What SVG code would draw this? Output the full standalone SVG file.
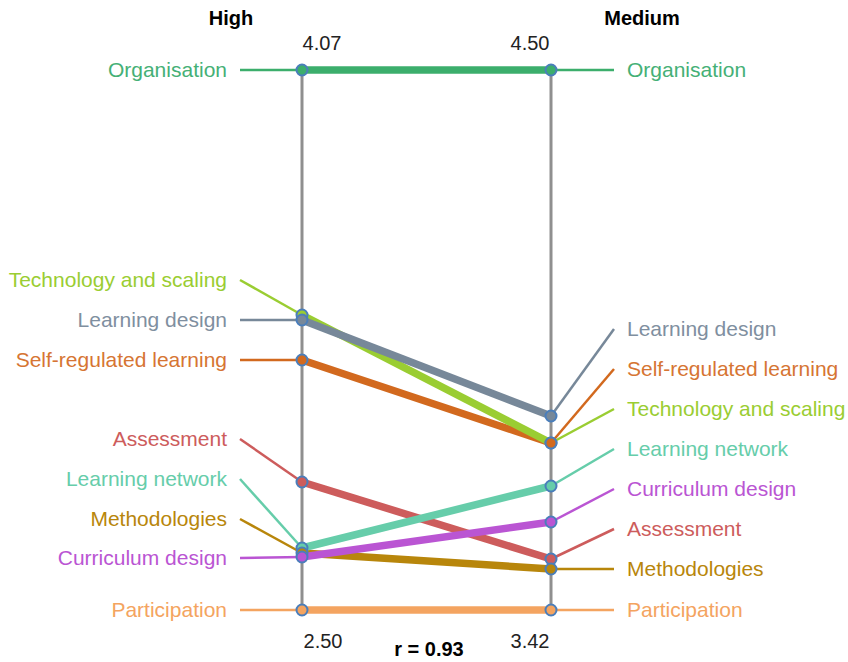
<svg xmlns="http://www.w3.org/2000/svg" width="848" height="662" viewBox="0 0 848 662">
<style>
text{font-family:"Liberation Sans",Arial,sans-serif;font-size:20px}
.lab{font-size:21px}
.l{text-anchor:end}
.hd{font-weight:bold;font-size:20px;text-anchor:middle;fill:#000}
.num{text-anchor:middle;fill:#222}
.axis{stroke:#8f8f8f;stroke-width:3}
.main{stroke-width:7.5;fill:none}
.lead{stroke-width:2.5;fill:none}
.mk{stroke:#4a7ebb;stroke-width:2}
</style>
<rect width="848" height="662" fill="#fff"/>
<g id="axes">
<line class="axis" x1="302" y1="70" x2="302" y2="610"/>
<line class="axis" x1="551" y1="70" x2="551" y2="610"/>
</g>
<text class="hd" x="231" y="25">High</text>
<text class="hd" x="642" y="25">Medium</text>
<text class="num" x="322" y="50">4.07</text>
<text class="num" x="530" y="50">4.50</text>
<text class="num" x="323" y="648">2.50</text>
<text class="num" x="530" y="648">3.42</text>
<text x="429" y="656" style="font-weight:bold;text-anchor:middle">r = 0.93</text>

<g id="connectors">
<g stroke="#3cae6c"><polyline class="lead" points="240,70 302,70"/><polyline class="main" points="302,70 551,70"/><polyline class="lead" points="551,70 614,70"/></g>
<g stroke="#f4a460"><polyline class="lead" points="240,610 302,610"/><polyline class="main" points="302,610 551,610"/><polyline class="lead" points="551,610 614,610"/></g>
<g stroke="#b8860b"><polyline class="lead" points="240,519 302,553"/><polyline class="main" points="302,553 551,569"/><polyline class="lead" points="551,569 614,569"/></g>
<g stroke="#cd5c5c"><polyline class="lead" points="240,439 302,482"/><polyline class="main" points="302,482 551,559"/><polyline class="lead" points="551,559 614,529"/></g>
<g stroke="#ba55d3"><polyline class="lead" points="240,558 302,557"/><polyline class="main" points="302,557 551,522"/><polyline class="lead" points="551,522 614,489"/></g>
<g stroke="#66cdaa"><polyline class="lead" points="240,479 302,548"/><polyline class="main" points="302,548 551,486"/><polyline class="lead" points="551,486 614,449"/></g>
<g stroke="#d2691e"><polyline class="lead" points="240,360 302,360"/><polyline class="main" points="302,360 551,443"/><polyline class="lead" points="551,443 614,369"/></g>
<g stroke="#9acd32"><polyline class="lead" points="240,280 302,315"/><polyline class="main" points="302,315 551,443"/><polyline class="lead" points="551,443 614,409"/></g>
<g stroke="#778899"><polyline class="lead" points="240,320 302,320"/><polyline class="main" points="302,320 551,416"/><polyline class="lead" points="551,416 614,329"/></g>
</g>

<g id="organisation" class="lab">
<text class="l lab" x="227" y="77" fill="#45b076">Organisation</text>
<text class="lab" x="627" y="77" fill="#45b076">Organisation</text>
<circle class="mk" cx="302" cy="70" r="5.5" fill="#3cae6c"/><circle class="mk" cx="551" cy="70" r="5.5" fill="#3cae6c"/>
</g>
<g id="technology">
<text class="l lab" x="227" y="287" fill="#9acd32">Technology and scaling</text>
<text class="lab" x="627" y="416" fill="#9acd32">Technology and scaling</text>
<circle class="mk" cx="302" cy="315" r="5.5" fill="#9acd32"/><circle class="mk" cx="551" cy="443" r="5.5" fill="#9acd32"/>
</g>
<g id="learning-design">
<text class="l lab" x="227" y="327" fill="#7f8fa0">Learning design</text>
<text class="lab" x="627" y="336" fill="#7f8fa0">Learning design</text>
<circle class="mk" cx="302" cy="320" r="5.5" fill="#778899"/><circle class="mk" cx="551" cy="416" r="5.5" fill="#778899"/>
</g>
<g id="self-regulated">
<text class="l lab" x="227" y="367" fill="#d67533">Self-regulated learning</text>
<text class="lab" x="627" y="376" fill="#d67533">Self-regulated learning</text>
<circle class="mk" cx="302" cy="360" r="5.5" fill="#d2691e"/><circle class="mk" cx="551" cy="443" r="5.5" fill="#d2691e"/>
</g>
<g id="assessment">
<text class="l lab" x="227" y="446" fill="#cd5c5c">Assessment</text>
<text class="lab" x="627" y="536" fill="#cd5c5c">Assessment</text>
<circle class="mk" cx="302" cy="482" r="5.5" fill="#cd5c5c"/><circle class="mk" cx="551" cy="559" r="5.5" fill="#cd5c5c"/>
</g>
<g id="learning-network">
<text class="l lab" x="227" y="486" fill="#66cdaa">Learning network</text>
<text class="lab" x="627" y="456" fill="#66cdaa">Learning network</text>
<circle class="mk" cx="302" cy="548" r="5.5" fill="#66cdaa"/><circle class="mk" cx="551" cy="486" r="5.5" fill="#66cdaa"/>
</g>
<g id="methodologies">
<text class="l lab" x="227" y="526" fill="#b8860b">Methodologies</text>
<text class="lab" x="627" y="576" fill="#b8860b">Methodologies</text>
<circle class="mk" cx="302" cy="553" r="5.5" fill="#b8860b"/><circle class="mk" cx="551" cy="569" r="5.5" fill="#b8860b"/>
</g>
<g id="curriculum-design">
<text class="l lab" x="227" y="565" fill="#ba55d3">Curriculum design</text>
<text class="lab" x="627" y="496" fill="#ba55d3">Curriculum design</text>
<circle class="mk" cx="302" cy="557" r="5.5" fill="#ba55d3"/><circle class="mk" cx="551" cy="522" r="5.5" fill="#ba55d3"/>
</g>
<g id="participation">
<text class="l lab" x="227" y="617" fill="#f4a460">Participation</text>
<text class="lab" x="627" y="617" fill="#f4a460">Participation</text>
<circle class="mk" cx="302" cy="610" r="5.5" fill="#f4a460"/><circle class="mk" cx="551" cy="610" r="5.5" fill="#f4a460"/>
</g>
</svg>
